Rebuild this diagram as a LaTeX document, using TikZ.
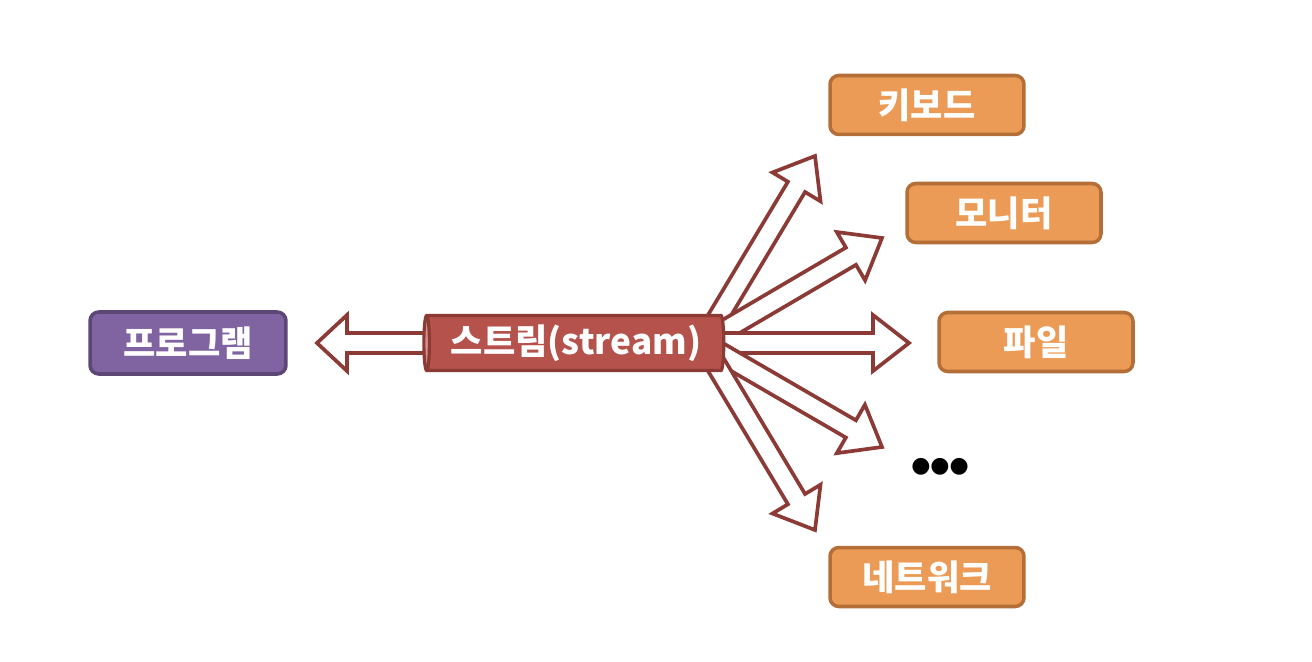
\documentclass[tikz,border=0pt]{standalone}
\usepackage{fontspec}
\setmainfont{Noto Sans CJK KR}
\newfontfamily\dotfont{DejaVu Sans}
\usetikzlibrary{calc,shapes.geometric,backgrounds}
\definecolor{progpurple}{HTML}{8064A2}
\definecolor{progedge}{HTML}{5C4776}
\definecolor{devorange}{HTML}{EB9B56}
\definecolor{devedge}{HTML}{B46E38}
\definecolor{streamred}{HTML}{B5524C}
\definecolor{streamedge}{HTML}{8B3A36}
\definecolor{streamend}{HTML}{D9908A}

% hollow block arrow from #2 to the tip #3, head length #1
\newcommand{\arrowsw}{0.2cm}
\newcommand{\arrowhw}{0.56cm}
\newcommand{\fatarrow}[3][0.72cm]{%
  \coordinate (fa-q) at ($(#3)!#1!(#2)$);
  \draw[fat] ($(#2)!\arrowsw!90:(#3)$) -- ($(fa-q)!\arrowsw!-90:(#2)$)
    -- ($(fa-q)!\arrowhw!-90:(#2)$) -- (#3) -- ($(fa-q)!\arrowhw!90:(#2)$)
    -- ($(fa-q)!\arrowsw!90:(#2)$) -- ($(#2)!\arrowsw!-90:(#3)$) -- cycle;}

\begin{document}
\begin{tikzpicture}[x=0.02cm,y=-0.02cm,
  box/.style={draw,rounded corners=5pt,line width=2pt,text=white,
              font=\fontsize{20}{24}\selectfont\bfseries,inner sep=0pt},
  prog/.style={box,fill=progpurple,draw=progedge,minimum width=3.92cm,minimum height=1.24cm},
  dev/.style={box,fill=devorange,draw=devedge,minimum width=3.88cm,minimum height=1.18cm},
  stream/.style={cylinder,shape border rotate=180,aspect=0.15,draw=streamedge,
              line width=1.8pt,cylinder uses custom fill,cylinder body fill=streamred,
              cylinder end fill=streamend,minimum width=1.1cm,minimum height=6cm,
              text=white,font=\fontsize{20}{24}\selectfont\bfseries,inner sep=0pt},
  fat/.style={draw=streamedge,fill=white,line width=2.1pt,line join=miter},
]
  \useasboundingbox (0,0) rectangle (1312,662);

  % program and stream
  \node[prog] (program) at (188,343) {프로그램};
  \node[stream] (stream) at (576,343) {스트림(stream)};

  % devices
  \node[dev] (keyboard) at (927,105) {키보드};
  \node[dev] (monitor) at (1004,213) {모니터};
  \node[dev] (file) at (1036,342) {파일};
  \node[dev] (network) at (927,577) {네트워크};
  \node[font=\dotfont\fontsize{12.5}{14}\selectfont] (etc) at (940,467) {●●●};

  % arrow tips
  \coordinate (hub) at ([xshift=-0.45cm]stream.east);
  \coordinate (progtip) at (317,343);
  \coordinate (kbdtip) at (815,156);
  \coordinate (montip) at (882,238);
  \coordinate (filetip) at (909,343);
  \coordinate (etctip) at (882,447);
  \coordinate (nettip) at (815,530);

  \begin{scope}[on background layer]
    \fatarrow[0.6cm]{[xshift=0.3cm]stream.west}{progtip}
    \fatarrow{hub}{kbdtip}
    \fatarrow{hub}{montip}
    \fatarrow{hub}{filetip}
    \fatarrow{hub}{etctip}
    \fatarrow{hub}{nettip}
  \end{scope}
\end{tikzpicture}
\end{document}
